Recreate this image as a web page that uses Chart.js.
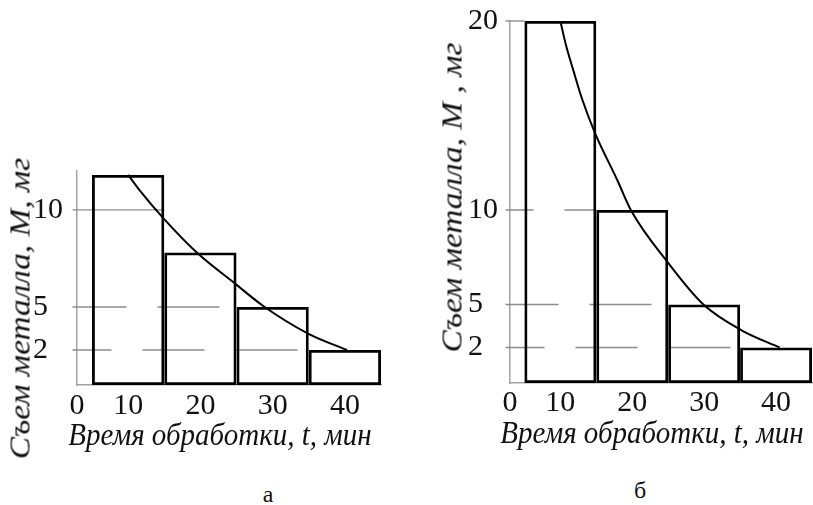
<!DOCTYPE html>
<html><head><meta charset="utf-8">
<script src="https://cdn.jsdelivr.net/npm/chart.js@4.4.0/dist/chart.umd.min.js"></script>
<style>
html,body{margin:0;padding:0;background:#fff;}
#wrap{position:relative;width:813px;height:505px;overflow:hidden;background:#fff;font-family:"Liberation Serif","Times New Roman",serif;color:#111;}
canvas{position:absolute;top:0;}
#chartA{left:0;}
#chartB{left:420px;}
.t{position:absolute;white-space:nowrap;text-align:center;font-style:italic;font-size:29px;line-height:29px;height:29px;width:360px;}
.rot{transform:rotate(-90deg) scaleX(1.15);transform-origin:50% 50%;}
.hor{transform:scaleY(1.1);transform-origin:50% 84%;}
.sub{position:absolute;font-size:24px;line-height:24px;height:24px;width:40px;text-align:center;}
</style>
</head><body>
<div id="wrap">
  <canvas id="chartA" width="400" height="420"></canvas>
  <canvas id="chartB" width="393" height="420"></canvas>
  <div class="t rot" style="left:-160px;top:294px;">Съем металла, M, мг</div>
  <div class="t rot" style="left:272px;top:183px;">Съем металла, M , мг</div>
  <div class="t hor" style="left:40px;top:421px;">Время обработки, t, мин</div>
  <div class="t hor" style="left:472px;top:419px;">Время обработки, t, мин</div>
  <div class="sub" style="left:248px;top:482px;">а</div>
  <div class="sub" style="left:620px;top:478px;">б</div>
</div>
<script>
// ---------------- data ----------------
const timeTicks = [0, 10, 20, 30, 40];            // x tick labels, мин
const intervalCenters = [10, 20, 30, 40];         // histogram bars, мин
const removalA = [11.8, 7.8, 5, 2];               // panel а, мг
const removalB = [20, 10, 5, 2];                  // panel б, мг
const curveTimeA = [10, 11.6, 14.8, 19.5, 24.8, 28.7, 34.9, 40.3];
const curveMassA = [11.8, 11.0, 9.6, 7.8, 6.2, 5.05, 3.15, 2.0];
const curveTimeB = [10, 10.8, 11.8, 13.0, 14.9, 17.9, 19.8, 25, 29.9, 35.2, 40.5];
const curveMassB = [20, 18.7, 17.4, 15.9, 14.0, 11.6, 10.0, 7.2, 5.0, 3.2, 2.0];
const massTicksA = [2, 5, 10];
const massTicksB = [2, 5, 10, 20];

// axis mapping of the (schematic, non-uniform) original axes: [value, linear position]
const axisKnots = {
  chartA: { x: [[0, 2.92], [5, 5], [45, 45]], y: [[0, 0.98], [2, 2.78], [5, 5], [12, 12]] },
  chartB: { x: [[0, 3.0], [5, 5], [45, 45]], y: [[0, 0.85], [2, 2.73], [5, 5], [20, 20]] }
};

// ---------------- custom piecewise scale ----------------
class KnotScale extends Chart.LinearScale {
  _knots() {
    const m = axisKnots[this.chart.canvas.id];
    return m ? m[this.id] : null;
  }
  _toUnit(v) {
    const k = this._knots();
    if (!k) return v;
    let i = 0;
    if (v >= k[k.length - 1][0]) i = k.length - 2;
    else while (i < k.length - 2 && v > k[i + 1][0]) i++;
    const [v0, u0] = k[i], [v1, u1] = k[i + 1];
    return u0 + (v - v0) * (u1 - u0) / (v1 - v0);
  }
  _fromUnit(u) {
    const k = this._knots();
    if (!k) return u;
    let i = 0;
    if (u >= k[k.length - 1][1]) i = k.length - 2;
    else while (i < k.length - 2 && u > k[i + 1][1]) i++;
    const [v0, u0] = k[i], [v1, u1] = k[i + 1];
    return v0 + (u - u0) * (v1 - v0) / (u1 - u0);
  }
  getPixelForValue(value) {
    if (value === null || value === undefined || isNaN(value)) return NaN;
    const a = this._toUnit(this.min), b = this._toUnit(this.max);
    return this.getPixelForDecimal((this._toUnit(value) - a) / (b - a));
  }
  getValueForPixel(pixel) {
    const a = this._toUnit(this.min), b = this._toUnit(this.max);
    return this._fromUnit(a + this.getDecimalForPixel(pixel) * (b - a));
  }
}
KnotScale.id = 'knot';
KnotScale.defaults = {};
Chart.register(KnotScale);

const DASH = [62, 31];
function dashedGuides(firstDash) {
  return {
    id: 'dashedGuides',
    beforeDatasetsDraw(chart) {
      const ctx = chart.ctx, xs = chart.scales.x, ys = chart.scales.y;
      const meta = chart.getDatasetMeta(0);
      const vals = chart.data.datasets[0].data.map(d => d.y);
      ctx.save();
      ctx.strokeStyle = '#8c8c8c';
      ctx.lineWidth = 1.4;
      ys.ticks.forEach(t => {
        const py = ys.getPixelForValue(t.value);
        let end = xs.right;
        for (let i = 0; i < vals.length; i++) {
          if (vals[i] <= t.value + 1e-9) {
            const p = meta.data[i].getProps(['x', 'width'], true);
            end = p.x - p.width / 2;
            break;
          }
        }
        const f = firstDash[t.value];
        if (f === null || f === undefined) ctx.setLineDash([]);
        else { ctx.setLineDash(DASH); ctx.lineDashOffset = DASH[0] - f; }
        ctx.beginPath();
        ctx.moveTo(xs.left - 4.5, py);
        ctx.lineTo(end, py);
        ctx.stroke();
      });
      ctx.restore();
    }
  };
}

const tickFont = { family: '"Liberation Serif", "Times New Roman", serif', size: 30 };

function makeChart(id, bars, cT, cM, yTicks, yMax, pad, yWidth, xHeight, xPad, firstDash) {
  return new Chart(document.getElementById(id), {
    type: 'bar',
    data: {
      datasets: [
        {
          type: 'bar',
          data: intervalCenters.map((t, i) => ({ x: t, y: bars[i] })),
          backgroundColor: 'rgba(0,0,0,0)',
          borderColor: '#000',
          borderWidth: 2.8,
          borderSkipped: false,
          barThickness: 'flex',
          barPercentage: 1,
          categoryPercentage: 1,
          inflateAmount: 0,
          order: 1
        },
        {
          type: 'line',
          data: cT.map((t, i) => ({ x: t, y: cM[i] })),
          borderColor: '#000',
          borderWidth: 2,
          pointRadius: 0,
          fill: false,
          cubicInterpolationMode: 'monotone',
          order: 0
        }
      ]
    },
    options: {
      responsive: false,
      animation: false,
      devicePixelRatio: 1,
      layout: { padding: pad },
      plugins: { legend: { display: false }, tooltip: { enabled: false } },
      scales: {
        x: {
          type: 'knot', min: 0, max: 45, offset: false,
          grid: { display: false, drawTicks: false, offset: false },
          border: { display: true, color: '#a3a3a3', width: 1.5 },
          ticks: { autoSkip: false, maxRotation: 0, minRotation: 0, padding: xPad, color: '#111', font: tickFont, callback: v => String(v) },
          afterBuildTicks: s => { s.ticks = timeTicks.map(v => ({ value: v })); },
          afterFit: s => { s.height = xHeight; }
        },
        y: {
          type: 'knot', min: 0, max: yMax,
          grid: { display: false, drawTicks: false },
          border: { display: true, color: '#a3a3a3', width: 1.5 },
          ticks: { autoSkip: false, crossAlign: 'far', padding: 0, color: '#111', font: tickFont, callback: v => String(v) },
          afterBuildTicks: s => { s.ticks = yTicks.map(v => ({ value: v })); },
          afterFit: s => { s.width = yWidth; }
        }
      }
    },
    plugins: [dashedGuides(firstDash)]
  });
}

makeChart('chartA', removalA, curveTimeA, curveMassA, massTicksA, 12,
  { left: 33, top: 171, right: 19, bottom: 0 }, 44, 35, 3, { 10: null, 5: 54, 2: 39 });
makeChart('chartB', removalB, curveTimeB, curveMassB, massTicksB, 20,
  { left: 48, top: 21, right: 1, bottom: 0 }, 42, 37, 2, { 20: null, 10: 28, 5: 53, 2: 39 });
</script>
</body></html>
